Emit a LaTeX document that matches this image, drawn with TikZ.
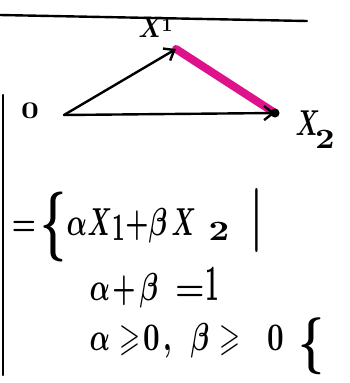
\documentclass[tikz,border=0pt]{standalone}
\usepackage{amssymb}
\usepackage{graphicx}
\usetikzlibrary{arrows.meta}
\newcommand\hwm[3]{\scalebox{#1}[#2]{\boldmath$#3$}}
\newcommand\hwt[3]{\scalebox{#1}[#2]{\bfseries #3}}
\begin{document}
\begin{tikzpicture}[x=1pt,y=-1pt,
  ink/.style={line width=2.4pt,black,line cap=round},
  vec/.style={ink,-{Straight Barb[length=9pt,width=14pt,line width=2.4pt]}},
  seg/.style={line width=8pt,magenta!85!violet,line cap=round},
  tk/.style={font=\fontsize{10}{12}\selectfont,inner sep=0pt,anchor=base},
  delim/.style={tk,anchor=center}]
\useasboundingbox (0,0) rectangle (350,383);
\fill[white] (0,0) rectangle (350,383);
% frame lines
\coordinate (tl) at (0,15);
\coordinate (tr) at (307,21);
\draw[ink] (tl) -- (tr);
\coordinate (vt) at (3,95);
\coordinate (vb) at (3,375);
\draw[ink] (vt) -- (vb);
% points
\coordinate (O) at (64,115);
\coordinate (X1) at (176,49);
\coordinate (X2) at (275,113);
\draw[seg] (X1) -- (X2);
\draw[vec] (O) -- (X1);
\draw[vec] (O) -- (X2);
\fill (X2) circle (4.5pt);
% labels
\node[tk] (l0) at (30,118) {\hwt{3.1}{2.4}{0}};
\node[tk] (l1) at (151,37) {\hwm{2.4}{2.95}{X}};
\node[tk] (l1s) at (167,31) {\hwt{1.9}{1.9}{1}};
\node[tk] (l2) at (308,135) {\hwm{2.4}{3.6}{X}};
\node[tk] (l2s) at (325,148) {\hwt{3.4}{2.8}{2}};
% line 1
\node[tk] (a1) at (24,235) {\hwm{2.7}{3.6}{=}};
\node[delim] (a2) at (53,227) {\hwm{4.5}{7}{\{}};
\node[tk] (a3) at (77,235) {\hwm{2.7}{3.9}{\alpha}};
\node[tk] (a4) at (100,235) {\hwm{2.4}{3.9}{X}};
\node[tk] (a4s) at (119,240) {\hwt{2.2}{3.9}{1}};
\node[tk] (a5) at (137,235) {\hwm{2.6}{3.9}{+}};
\node[tk] (a6) at (158,235) {\hwm{2.7}{3.9}{\beta}};
\node[tk] (a7) at (184,235) {\hwm{2.4}{3.9}{X}};
\node[tk] (a7s) at (219,240) {\hwt{3.6}{2.8}{2}};
\node[delim] (a8) at (257,220) {\hwm{4}{6.4}{\vert}};
% line 2
\node[tk] (b1) at (100,300) {\hwm{2.7}{3.9}{\alpha}};
\node[tk] (b2) at (124,300) {\hwm{2.6}{3.9}{+}};
\node[tk] (b3) at (149,300) {\hwm{2.7}{3.9}{\beta}};
\node[tk] (b4) at (190,300) {\hwm{3.3}{3.6}{=}};
\node[tk] (b5) at (212,300) {\hwt{2.4}{5.1}{1}};
% line 3
\node[tk] (c1) at (100,350) {\hwm{2.7}{3.9}{\alpha}};
\node[tk] (c2) at (130,350) {\hwm{2.7}{3.9}{\geqslant}};
\node[tk] (c3) at (152,350) {\hwt{2.9}{3.9}{0}};
\node[tk] (c4) at (168,350) {\hwt{2.7}{3.9}{,}};
\node[tk] (c5) at (200,350) {\hwm{2.7}{3.9}{\beta}};
\node[tk] (c6) at (230,350) {\hwm{2.7}{3.9}{\geqslant}};
\node[tk] (c7) at (276,350) {\hwt{2.9}{3.9}{0}};
\node[delim] (c8) at (311,346) {\hwm{4.5}{5.7}{\{}};
\end{tikzpicture}
\end{document}
